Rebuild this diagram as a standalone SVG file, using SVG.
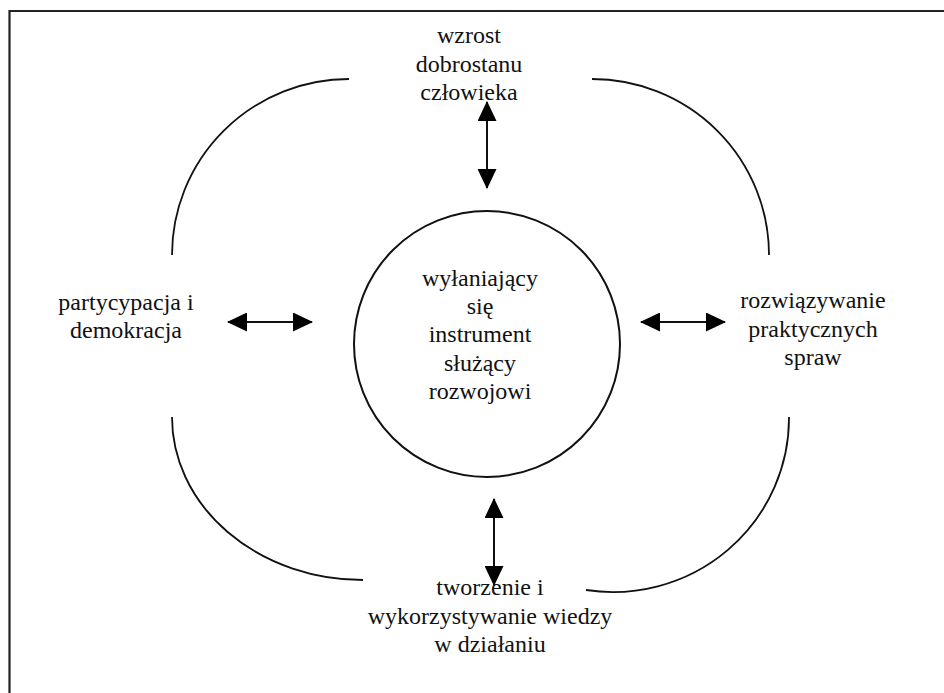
<svg xmlns="http://www.w3.org/2000/svg" width="944" height="693" viewBox="0 0 944 693">
<style>
.arc{fill:none;stroke:#111;stroke-width:1.8}
.con{stroke:#111;stroke-width:2;marker-start:url(#ah);marker-end:url(#ah)}
</style>
<defs>
<marker id="ah" viewBox="0 0 20 19" markerWidth="20" markerHeight="19" refX="19" refY="9.5" orient="auto-start-reverse" markerUnits="userSpaceOnUse">
<path d="M0,0 L20,9.5 L0,19 z" fill="#000"/>
</marker>
</defs>
<rect width="944" height="693" fill="#fff"/>
<path d="M9.5,693 V11 H944" fill="none" stroke="#222" stroke-width="2.2"/>
<g id="arcs">
<path class="arc" d="M349,79 A177,176 0 0 0 172,255"/>
<path class="arc" d="M592,79 A177,176 0 0 1 769,255"/>
<path class="arc" d="M172,417 A191,163 0 0 0 363,580"/>
<path class="arc" d="M789,417 A176,174 0 0 1 586,590"/>
</g>
<g font-family="Liberation Serif, Times New Roman, DejaVu Serif, serif" font-size="24" fill="#111" text-anchor="middle">
<g id="center">
<circle cx="487" cy="344" r="133" fill="none" stroke="#111" stroke-width="2"/>
<text x="480" y="286">wyłaniający</text>
<text x="480" y="314">się</text>
<text x="480" y="342">instrument</text>
<text x="480" y="371">służący</text>
<text x="480" y="399">rozwojowi</text>
</g>
<g id="top">
<text x="469" y="43">wzrost</text>
<text x="469" y="72">dobrostanu</text>
<text x="469" y="100">człowieka</text>
</g>
<g id="left">
<text x="126" y="310">partycypacja i</text>
<text x="126" y="338">demokracja</text>
</g>
<g id="right">
<text x="813" y="308">rozwiązywanie</text>
<text x="813" y="337">praktycznych</text>
<text x="813" y="365">spraw</text>
</g>
<g id="bottom">
<text x="490" y="595">tworzenie i</text>
<text x="490" y="624">wykorzystywanie wiedzy</text>
<text x="490" y="652">w działaniu</text>
</g>
</g>
<g id="connectors">
<line class="con" x1="487" y1="102" x2="487" y2="188"/>
<line class="con" x1="228" y1="322" x2="312" y2="322"/>
<line class="con" x1="641" y1="322" x2="725" y2="322"/>
<line class="con" x1="494" y1="499" x2="494" y2="585"/>
</g>
</svg>
